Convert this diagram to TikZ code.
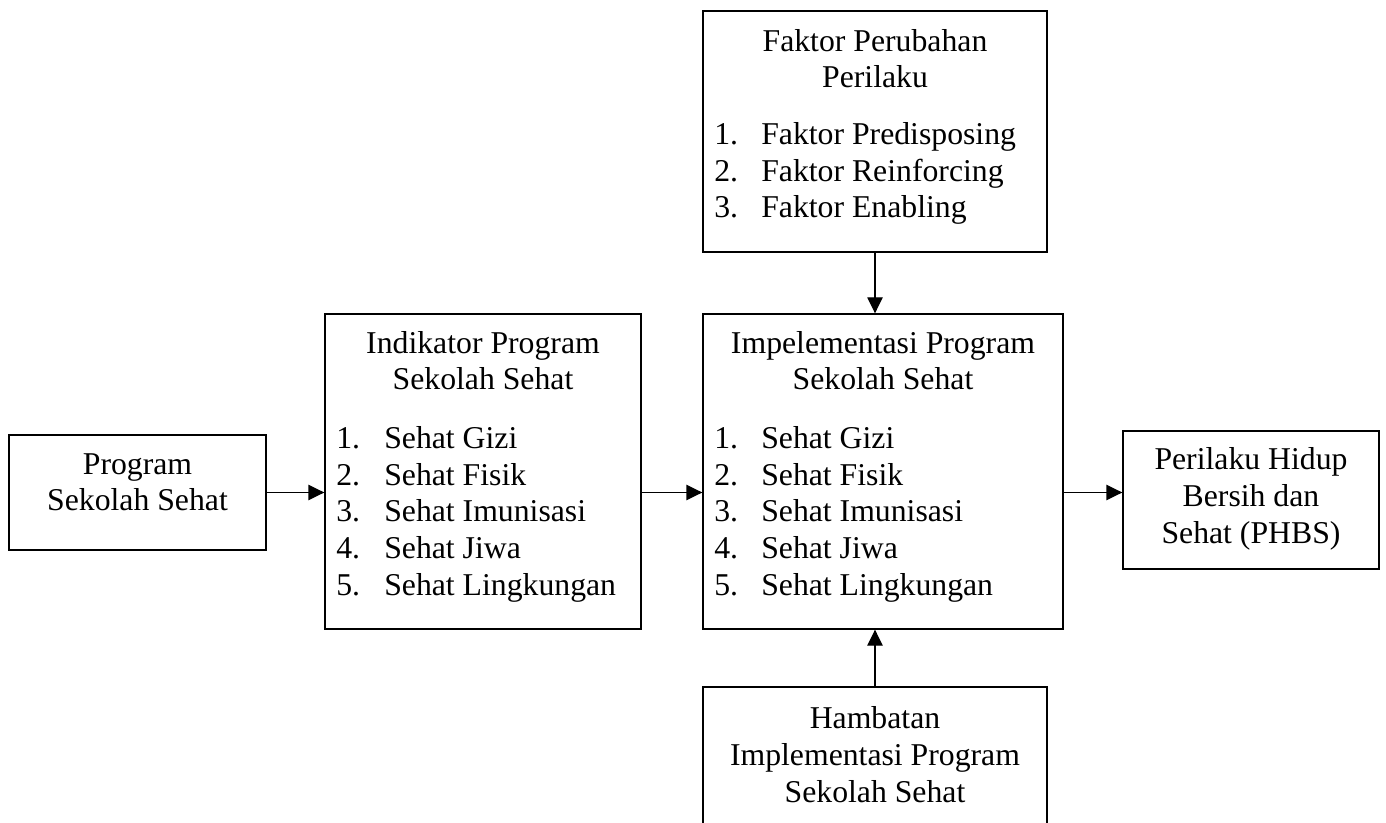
\documentclass[tikz,border=0pt]{standalone}
\usepackage{fontspec}
\setmainfont{Liberation Serif}
\usetikzlibrary{fit,arrows.meta}
\begin{document}
\begin{tikzpicture}[x=0.75pt,y=-0.75pt,
  box/.style={draw, line width=1pt, inner sep=0pt},
  txt/.style={anchor=base, inner sep=0pt, font=\fontsize{23.8pt}{27.5pt}\selectfont},
  lft/.style={txt, anchor=base west},
  arr/.style={line width=1pt, -{Triangle[length=12pt,width=11.5pt]}}]
\useasboundingbox (0,0) rectangle (1386,823);
\clip (0,0) rectangle (1386,823);
% boxes
\node[box, fit={(9,435) (266,550)}] (prog) {};
\node[box, fit={(325,314) (641,629)}] (ind) {};
\node[box, fit={(703,314) (1063,629)}] (impl) {};
\node[box, fit={(703,11) (1047,252)}] (fak) {};
\node[box, fit={(703,687) (1047,840)}] (ham) {};
\node[box, fit={(1123,431) (1379,569)}] (phbs) {};
% Program
\node[txt] (p1) at (137.5,475) {Program};
\node[txt] (p2) at (137.5,511) {Sekolah Sehat};
% Indikator
\node[txt] (i1) at (483,354) {Indikator Program};
\node[txt] (i2) at (483,390) {Sekolah Sehat};
\node[lft] (in1) at (336,449) {1.};
\node[lft] (it1) at (384,449) {Sehat Gizi};
\node[lft] (in2) at (336,485.5) {2.};
\node[lft] (it2) at (384,485.5) {Sehat Fisik};
\node[lft] (in3) at (336,522) {3.};
\node[lft] (it3) at (384,522) {Sehat Imunisasi};
\node[lft] (in4) at (336,558.5) {4.};
\node[lft] (it4) at (384,558.5) {Sehat Jiwa};
\node[lft] (in5) at (336,595) {5.};
\node[lft] (it5) at (384,595) {Sehat Lingkungan};
% Implementasi
\node[txt] (m1) at (883,354) {Impelementasi Program};
\node[txt] (m2) at (883,390) {Sekolah Sehat};
\node[lft] (mn1) at (714,449) {1.};
\node[lft] (mt1) at (761,449) {Sehat Gizi};
\node[lft] (mn2) at (714,485.5) {2.};
\node[lft] (mt2) at (761,485.5) {Sehat Fisik};
\node[lft] (mn3) at (714,522) {3.};
\node[lft] (mt3) at (761,522) {Sehat Imunisasi};
\node[lft] (mn4) at (714,558.5) {4.};
\node[lft] (mt4) at (761,558.5) {Sehat Jiwa};
\node[lft] (mn5) at (714,595) {5.};
\node[lft] (mt5) at (761,595) {Sehat Lingkungan};
% Faktor
\node[txt] (f1) at (875,52) {Faktor Perubahan};
\node[txt] (f2) at (875,88) {Perilaku};
\node[lft] (fn1) at (714,145) {1.};
\node[lft] (ft1) at (761,145) {Faktor Predisposing};
\node[lft] (fn2) at (714,181.5) {2.};
\node[lft] (ft2) at (761,181.5) {Faktor Reinforcing};
\node[lft] (fn3) at (714,218) {3.};
\node[lft] (ft3) at (761,218) {Faktor Enabling};
% Hambatan
\node[txt] (h1) at (875,728) {Hambatan};
\node[txt] (h2) at (875,765) {Implementasi Program};
\node[txt] (h3) at (875,802) {Sekolah Sehat};
% PHBS
\node[txt] (b1) at (1251,470) {Perilaku Hidup};
\node[txt] (b2) at (1251,507) {Bersih dan};
\node[txt] (b3) at (1251,543) {Sehat (PHBS)};
% connectors
\draw[arr] (prog.east) -- (ind.west |- prog.east);
\draw[arr] (ind.east |- prog.east) -- (impl.west |- prog.east);
\draw[arr] (impl.east |- prog.east) -- (phbs.west |- prog.east);
\draw[arr] (fak.south) -- (fak.south |- impl.north);
\draw[arr] (ham.north) -- (ham.north |- impl.south);
\end{tikzpicture}
\end{document}
